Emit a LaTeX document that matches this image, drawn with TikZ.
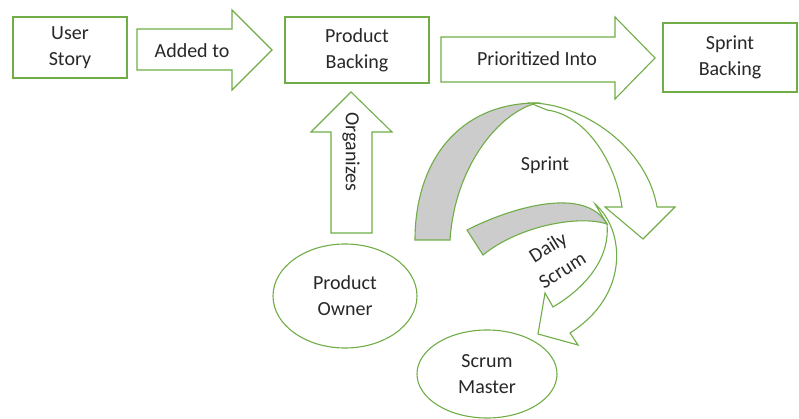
\documentclass[tikz,border=0pt]{standalone}
\usepackage{fontspec}
\setmainfont{Carlito}
\usetikzlibrary{shapes.geometric}
\definecolor{lg}{RGB}{112,173,71}
\definecolor{gy}{RGB}{204,204,204}
\definecolor{tx}{RGB}{40,40,40}
\begin{document}
\begin{tikzpicture}[x=1pt,y=-1pt,
  shp/.style={draw=lg, line width=1.1pt, fill=white, line join=miter},
  lbl/.style={font=\fontsize{20}{26}\selectfont, text=tx, align=center, inner sep=0pt},
  box/.style={shp, lbl, inner sep=0pt},
  oval/.style={shp, lbl, ellipse, inner sep=0pt}]
\useasboundingbox (0,0) rectangle (799,419);
% boxes
\node[box, minimum width=114pt, minimum height=61pt] (us) at (70,47.5) {User\\Story};
\node[box, minimum width=144pt, minimum height=66pt] (pb) at (357,50) {Product\\Backing};
\node[box, minimum width=134pt, minimum height=69pt] (sb) at (730,57.5) {Sprint\\Backing};
% block arrows
\draw[shp] (137,29) -- (232,29) -- (232,10) -- (272,50) -- (232,90) -- (232,70) -- (137,70) -- cycle;
\node[lbl] (added) at (192,51) {Added to};
\draw[shp] (441,37) -- (615,37) -- (615,17) -- (655,58) -- (615,99) -- (615,82) -- (441,82) -- cycle;
\node[lbl] (prio) at (537,59) {Prioritized Into};
\draw[shp] (331,233) -- (331,132) -- (311,132) -- (351,92) -- (392,132) -- (372,132) -- (372,233) -- cycle;
\node[lbl, rotate=-90] (org) at (351,152) {Organizes};
% ellipses
\node[oval, minimum width=144pt, minimum height=104pt] (po) at (345,296) {Product\\Owner};
\node[oval, minimum width=140pt, minimum height=88pt] (sm) at (487,374) {Scrum\\Master};
% sprint curved arrow
\draw[shp] (530,103) .. controls (582,103) and (647,147) .. (657,207) -- (675,207) -- (643,239) -- (605,207) -- (622,207) .. controls (615,160) and (585,115) .. (547,110) -- cycle;
\draw[shp, fill=gy] (415,240) .. controls (415,160) and (460,103) .. (537,103) .. controls (500,112) and (455,165) .. (450,240) -- cycle;
\node[lbl] (sprint) at (545,165) {Sprint};
% daily scrum curved arrow
\draw[shp] (595,204) .. controls (625,230) and (630,295) .. (570,333) -- (578,345) -- (538,334) -- (545,293) -- (553,307) .. controls (590,285) and (610,255) .. (607,224) -- cycle;
\draw[shp, fill=gy] (467,230) .. controls (510,208) and (585,185) .. (607,224) .. controls (580,215) and (520,225) .. (483,255) -- cycle;
\node[lbl, rotate=32, font=\fontsize{20}{27}\selectfont] (daily) at (555,258.5) {Daily\\Scrum};
\end{tikzpicture}
\end{document}
